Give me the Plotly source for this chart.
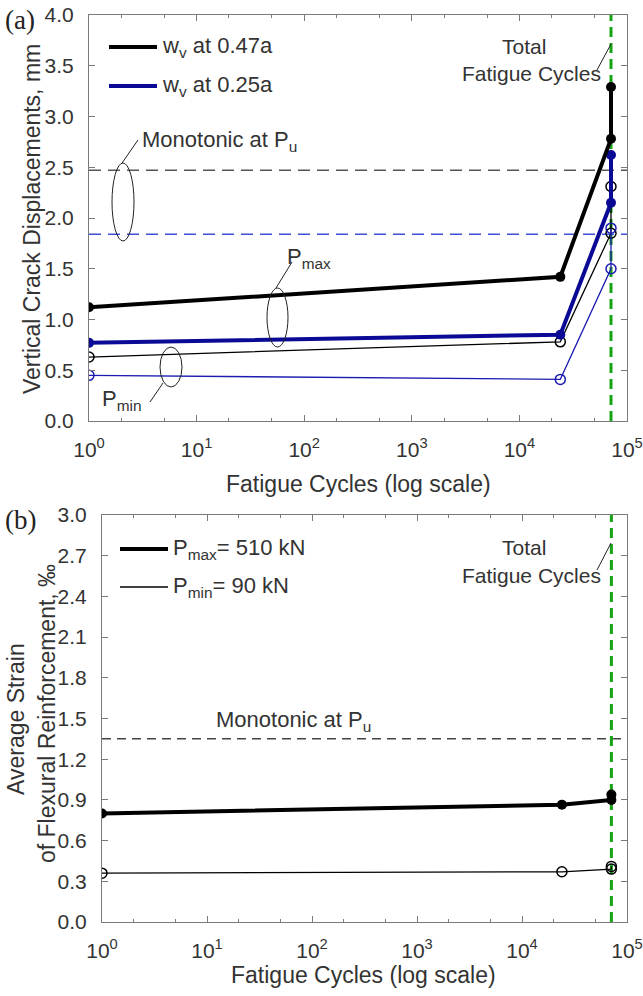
import plotly.graph_objects as go

# ---------------- data ----------------
W, H = 643, 996
TOTAL_CYCLES = 71000
cycles = [1, 24000, 71000, 71000]

# panel (a): vertical crack displacements, mm
wv047_pmax = [1.12, 1.42, 2.78, 3.29]
wv025_pmax = [0.77, 0.85, 2.15, 2.62]
wv047_pmin = [0.63, 0.78, 1.85, 2.31]
wv025_pmin = [0.45, 0.41, 1.50, 1.90]
mono_047 = 2.47
mono_025 = 1.84

# panel (b): average strain of flexural reinforcement, permil
strain_pmax = [0.80, 0.865, 0.90, 0.94]
strain_pmin = [0.36, 0.37, 0.39, 0.41]
mono_strain = 1.35

x_tickvals = [1, 10, 100, 1000, 10000, 100000]
x_ticktext = ["10<sup>0</sup>", "10<sup>1</sup>", "10<sup>2</sup>",
              "10<sup>3</sup>", "10<sup>4</sup>", "10<sup>5</sup>"]
ya_ticks = [0.0, 0.5, 1.0, 1.5, 2.0, 2.5, 3.0, 3.5, 4.0]
yb_ticks = [0.0, 0.3, 0.6, 0.9, 1.2, 1.5, 1.8, 2.1, 2.4, 2.7, 3.0]

# ---------------- styles ----------------
BLACK = "#000000"
NAVY = "#0a0a96"
BLUE_THIN = "#1c1cb0"
GREEN = "#17a317"
FRAME = "#7a7a7a"
TXT = "#333333"
FONT = "Liberation Sans, Arial, sans-serif"


def px(x):
    return x / W


def py(y):
    return 1 - y / H


fig = go.Figure()

# ---- panel (a) ----
fig.add_trace(go.Scatter(x=[1, 100000], y=[mono_047, mono_047], mode="lines",
                         line=dict(color="#555555", width=1.5, dash="12px,7px"),
                         xaxis="x", yaxis="y", showlegend=False, hoverinfo="skip"))
fig.add_trace(go.Scatter(x=[1, 100000], y=[mono_025, mono_025], mode="lines",
                         line=dict(color="#3d4fd6", width=1.3, dash="12px,7px"),
                         xaxis="x", yaxis="y", showlegend=False, hoverinfo="skip"))
fig.add_trace(go.Scatter(x=[TOTAL_CYCLES, TOTAL_CYCLES], y=[0, 4], mode="lines",
                         line=dict(color=GREEN, width=3, dash="10px,6px"),
                         xaxis="x", yaxis="y", showlegend=False, hoverinfo="skip"))

fig.add_trace(go.Scatter(x=cycles, y=wv047_pmin, mode="lines+markers",
                         line=dict(color=BLACK, width=1.3),
                         marker=dict(symbol="circle-open", size=10, color=BLACK, line=dict(width=1.5)),
                         xaxis="x", yaxis="y", showlegend=False))
fig.add_trace(go.Scatter(x=cycles, y=wv025_pmin, mode="lines+markers",
                         line=dict(color=BLUE_THIN, width=1.3),
                         marker=dict(symbol="circle-open", size=10, color=BLUE_THIN, line=dict(width=1.5)),
                         xaxis="x", yaxis="y", showlegend=False))
fig.add_trace(go.Scatter(x=cycles, y=wv025_pmax, mode="lines+markers",
                         line=dict(color=NAVY, width=4),
                         marker=dict(symbol="circle", size=10, color=NAVY),
                         xaxis="x", yaxis="y", showlegend=False))
fig.add_trace(go.Scatter(x=cycles, y=wv047_pmax, mode="lines+markers",
                         line=dict(color=BLACK, width=4),
                         marker=dict(symbol="circle", size=10, color=BLACK),
                         xaxis="x", yaxis="y", showlegend=False))

# ---- panel (b) ----
fig.add_trace(go.Scatter(x=[1, 100000], y=[mono_strain, mono_strain], mode="lines",
                         line=dict(color="#444444", width=1.5, dash="9px,6px"),
                         xaxis="x2", yaxis="y2", showlegend=False, hoverinfo="skip"))
fig.add_trace(go.Scatter(x=[TOTAL_CYCLES, TOTAL_CYCLES], y=[0, 3], mode="lines",
                         line=dict(color=GREEN, width=3, dash="10px,6px"),
                         xaxis="x2", yaxis="y2", showlegend=False, hoverinfo="skip"))
fig.add_trace(go.Scatter(x=cycles, y=strain_pmin, mode="lines+markers",
                         line=dict(color=BLACK, width=1.3),
                         marker=dict(symbol="circle-open", size=10, color=BLACK, line=dict(width=1.5)),
                         xaxis="x2", yaxis="y2", showlegend=False))
fig.add_trace(go.Scatter(x=cycles, y=strain_pmax, mode="lines+markers",
                         line=dict(color=BLACK, width=4),
                         marker=dict(symbol="circle", size=10, color=BLACK),
                         xaxis="x2", yaxis="y2", showlegend=False))

xcommon = dict(type="log", range=[0, 5], tickvals=x_tickvals, ticktext=x_ticktext,
               ticks="inside", ticklen=6, tickcolor=FRAME, showline=True, linecolor=FRAME,
               linewidth=1, mirror="ticks", showgrid=False, zeroline=False, automargin=False,
               ticklabelstandoff=10,
               tickfont=dict(family=FONT, size=21, color=TXT),
               minor=dict(ticks="inside", ticklen=3, tickcolor=FRAME, showgrid=False))
ycommon = dict(ticks="inside", ticklen=6, tickcolor=FRAME, showline=True, linecolor=FRAME,
               linewidth=1, mirror="ticks", showgrid=False, zeroline=False, tickformat=".1f",
               automargin=False, ticklabelstandoff=10,
               tickfont=dict(family=FONT, size=21, color=TXT))

fig.update_layout(
    template="none",
    width=W, height=H, margin=dict(l=0, r=0, t=0, b=0, autoexpand=False),
    paper_bgcolor="white", plot_bgcolor="white",
    xaxis=dict(domain=[px(89), px(627)], anchor="y", **xcommon),
    yaxis=dict(domain=[py(421), py(15)], anchor="x", range=[0, 4], tickvals=ya_ticks, **ycommon),
    xaxis2=dict(domain=[px(102), px(627)], anchor="y2", **xcommon),
    yaxis2=dict(domain=[py(922), py(515)], anchor="x2", range=[0, 3], tickvals=yb_ticks, **ycommon),
    showlegend=False,
)

shapes = []
annotations = []


def ann(text, x, y, size=21, xanchor="left", yanchor="middle", angle=0, family=FONT, color=TXT):
    annotations.append(dict(text=text, x=px(x), y=py(y), xref="paper", yref="paper",
                            xanchor=xanchor, yanchor=yanchor, showarrow=False, textangle=angle,
                            borderpad=0, font=dict(family=family, size=size, color=color)))


def seg(x0, y0, x1, y1, color="#222222", width=1):
    shapes.append(dict(type="line", xref="paper", yref="paper", x0=px(x0), y0=py(y0),
                       x1=px(x1), y1=py(y1), line=dict(color=color, width=width)))


def ellipse(x0, y0, x1, y1):
    shapes.append(dict(type="circle", xref="paper", yref="paper", x0=px(x0), y0=py(y1),
                       x1=px(x1), y1=py(y0), line=dict(color="#222222", width=1)))


# panel labels
ann("(a)", 4, 20, size=27, family="Liberation Serif, Times New Roman, serif", color="#222222")
ann("(b)", 4, 520, size=27, family="Liberation Serif, Times New Roman, serif", color="#222222")

# axis titles
ann("Vertical Crack Displacements, mm", 32, 219, size=23, xanchor="center", angle=-90)
ann("Fatigue Cycles (log scale)", 358, 484, size=23, xanchor="center")
ann("Average Strain", 16, 719, size=23, xanchor="center", angle=-90)
ann("of Flexural Reinforcement, ‰", 47, 714, size=23, xanchor="center", angle=-90)
ann("Fatigue Cycles (log scale)", 363, 975, size=23, xanchor="center")

# legend (a)
seg(109, 47, 157, 47, color=BLACK, width=4)
seg(109, 86, 157, 86, color=NAVY, width=4)
ann("w<sub>v</sub> at 0.47a", 161, 47, size=22)
ann("w<sub>v</sub> at 0.25a", 161, 86, size=22)

# legend (b)
seg(120, 549, 168, 549, color=BLACK, width=4)
seg(120, 587, 168, 587, color=BLACK, width=1.3)
ann("P<sub>max</sub>= 510 kN", 172, 549, size=22)
ann("P<sub>min</sub>= 90 kN", 172, 587, size=22)

# panel (a) callouts
ann("Monotonic at P<sub>u</sub>", 141, 141, size=22)
seg(138, 140, 122, 163)
ellipse(112, 163, 134, 241)

ann("P<sub>max</sub>", 286, 258, size=22)
seg(292, 262, 276, 288)
ellipse(267, 288, 288, 347)

ann("P<sub>min</sub>", 101, 400, size=22)
seg(150, 402, 163, 383)
ellipse(160, 347, 182, 387)

ann("Total", 524, 46, size=21, xanchor="center")
ann("Fatigue Cycles", 531, 73, size=21, xanchor="center")
seg(597, 70, 611, 44)

# panel (b) callouts
ann("Monotonic at P<sub>u</sub>", 215, 721, size=22)
ann("Total", 524, 547, size=21, xanchor="center")
ann("Fatigue Cycles", 531, 575, size=21, xanchor="center")
seg(597, 570, 611, 543)

fig.update_layout(shapes=shapes, annotations=annotations)
fig.write_html("out.html")
